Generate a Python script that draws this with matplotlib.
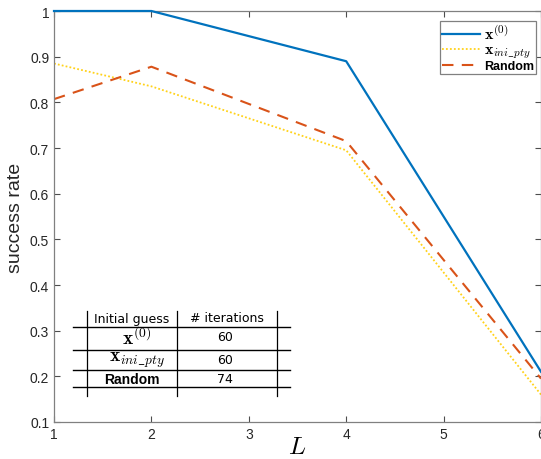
import matplotlib
matplotlib.use("Agg")
import matplotlib.pyplot as plt
from matplotlib.lines import Line2D

plt.rcParams['font.family'] = ['Liberation Sans', 'DejaVu Sans']
plt.rcParams['mathtext.fontset'] = 'cm'

# Donnees
L = [1, 2, 4, 6]
x0 = [1.0, 1.0, 0.89, 0.21]
x_ini = [0.885, 0.835, 0.695, 0.16]
rand = [0.807, 0.878, 0.715, 0.195]

table_header = ["Initial guess", "# iterations"]
table_guess = [r"$\mathbf{x}^{(0)}$", r"$\mathbf{x}_{ini\_pty}$", "Random"]
table_iters = [60, 60, 74]

grey = "#4d4d4d"

fig = plt.figure(figsize=(5.41, 4.60), dpi=100)
ax = fig.add_axes([54 / 541, 37 / 460, 487 / 541, 411 / 460])

ax.plot(L, x0, color="#0072BD", lw=1.6, label=r"$\mathbf{x}^{(0)}$", clip_on=False, zorder=3)
ax.plot(L, x_ini, color="#FFD21A", lw=1.3, ls=(0, (1, 1.2)), label=r"$\mathbf{x}_{ini\_pty}$")
ax.plot(L, rand, color="#D95319", lw=1.5, ls=(0, (5.5, 4)), label="Random")

ax.set_xlim(1, 6)
ax.set_ylim(0.1, 1)
ax.set_xticks([1, 2, 3, 4, 5, 6])
ax.set_yticks([0.1, 0.2, 0.3, 0.4, 0.5, 0.6, 0.7, 0.8, 0.9, 1])
ax.set_yticklabels(["0.1", "0.2", "0.3", "0.4", "0.5", "0.6", "0.7", "0.8", "0.9", "1"])
ax.tick_params(direction="in", length=4, colors=grey, labelsize=10, top=True, right=True,
               labelcolor="#262626")
for s in ax.spines.values():
    s.set_color("#808080")
    s.set_linewidth(0.9)

ax.set_xlabel("$L$", fontsize=18, labelpad=-5)
ax.set_ylabel("success rate", fontsize=14, color="#262626", labelpad=4)

leg = ax.legend(loc="upper right", bbox_to_anchor=(0.995, 0.981),
                prop={"weight": "bold", "size": 9}, handlelength=3.0, handletextpad=0.35,
                borderpad=0.15, labelspacing=0.0, fancybox=False, framealpha=1,
                edgecolor="#808080", borderaxespad=0.2)
leg.get_frame().set_linewidth(0.9)
for t in leg.get_texts()[:2]:
    t.set_fontsize(11.5)

# Tableau des iterations (dessine en coordonnees de la figure)
W, H = 541, 460
def fx(px):
    return px / W
def fy(py):
    return 1 - py / H

hlines_y = [328, 351, 371, 388]
for yy in hlines_y:
    fig.add_artist(Line2D([fx(73), fx(290)], [fy(yy), fy(yy)], color="black", lw=1))
for xx in [87, 177, 277]:
    fig.add_artist(Line2D([fx(xx), fx(xx)], [fy(312), fy(397)], color="black", lw=0.9))

fig.text(fx(132), fy(319), table_header[0], ha="center", va="center", fontsize=9,
         family="DejaVu Sans")
fig.text(fx(227), fy(319), table_header[1], ha="center", va="center", fontsize=9,
         family="DejaVu Sans")
row_y = [338, 360, 380]
for i in range(3):
    if table_guess[i] == "Random":
        fig.text(fx(132), fy(row_y[i]), table_guess[i], ha="center", va="center",
                 fontsize=10, weight="bold")
    else:
        fig.text(fx(137), fy(row_y[i]), table_guess[i], ha="center", va="center",
                 fontsize=14)
    fig.text(fx(225), fy(row_y[i]), str(table_iters[i]), ha="center", va="center",
             fontsize=9, family="DejaVu Sans")

fig.savefig("out.png", dpi=100)
